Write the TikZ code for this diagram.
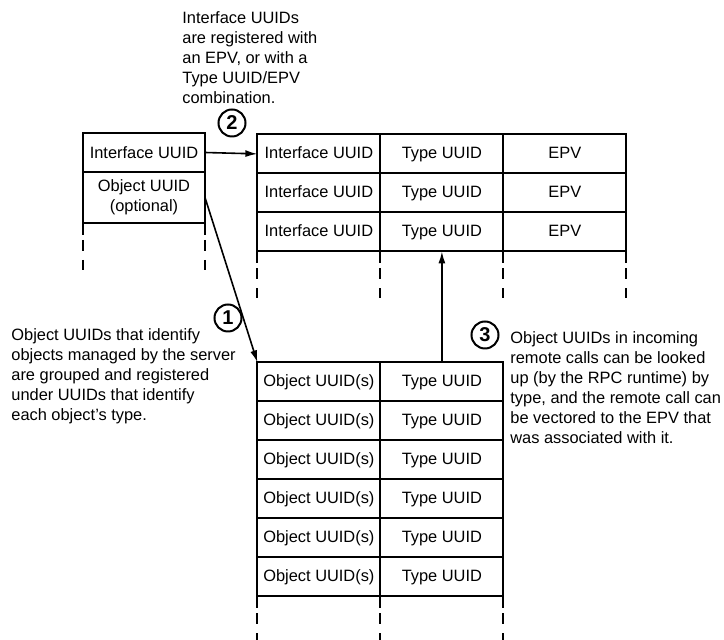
\documentclass[tikz,border=0pt]{standalone}
\usepackage{fontspec}
\setmainfont{Liberation Sans}
\usetikzlibrary{matrix,arrows.meta,positioning}

\begin{document}
\begin{tikzpicture}[x=0.5pt,y=-0.5pt,
  font=\fontsize{8.2}{10}\selectfont,
  cell/.style={draw,line width=1pt,minimum width=61.5pt,minimum height=19.5pt,text height=6pt,text depth=1.8pt,inner sep=0pt,outer sep=0pt,anchor=center},
  tail/.style={line width=1pt,dash pattern=on 6pt off 2.5pt on 5.5pt off 4.5pt on 5pt off 20pt},
  link/.style={line width=0.8pt,-{Latex[length=6pt,width=3.5pt]}},
  badge/.style={draw,circle,line width=1pt,minimum size=13.5pt,inner sep=0pt,font=\bfseries\fontsize{10}{10}\selectfont},
  note/.style={align=left,inner sep=0pt,anchor=north west}]
\useasboundingbox (0,0) rectangle (724,640);
% server entry
\node[draw,line width=1pt,minimum width=61pt,minimum height=19.5pt,inner sep=0pt,outer sep=0pt,anchor=north west] (ifc) at (83,133) {Interface UUID};
\node[draw,line width=1pt,minimum width=61pt,minimum height=25.5pt,inner sep=0pt,outer sep=0pt,align=center,below=0pt of ifc] (objopt) {Object UUID\\(optional)};
% interface registry
\matrix (reg) [matrix of nodes, nodes={cell}, column sep=-1pt, row sep=-1pt, inner sep=0pt, anchor=north west] at (256,133)
{
Interface UUID & Type UUID & EPV \\
Interface UUID & Type UUID & EPV \\
Interface UUID & Type UUID & EPV \\
};
% object registry
\matrix (obj) [matrix of nodes, nodes={cell}, column sep=-1pt, row sep=-1pt, inner sep=0pt, anchor=north west] at (256,361)
{
Object UUID(s) & Type UUID \\
Object UUID(s) & Type UUID \\
Object UUID(s) & Type UUID \\
Object UUID(s) & Type UUID \\
Object UUID(s) & Type UUID \\
Object UUID(s) & Type UUID \\
};
% open ends
\draw[tail] (objopt.south west) -- ++(0,49);
\draw[tail] (objopt.south east) -- ++(0,49);
\foreach \c in {1,2,3}
  \draw[tail] (reg-3-\c.south west) -- ++(0,47);
\draw[tail] (reg-3-3.south east) -- ++(0,47);
\foreach \c in {1,2}
  \draw[tail] (obj-6-\c.south west) -- ++(0,47);
\draw[tail] (obj-6-2.south east) -- ++(0,47);
% arrows
\path[link]
(objopt.east) edge (obj-1-1.north west)
(ifc.east) edge (reg-1-1.west)
(obj-1-2.north) edge (reg-3-2.south)
;
\node[badge] (one) at (228,318) {1};
\node[badge] (two) at (232,123) {2};
\node[badge] (three) at (485,335) {3};
% notes
\node[note] (regnote) at (182,11) {Interface UUIDs\\are registered with\\an EPV, or with a\\Type UUID/EPV\\combination.};
\node[note] (objnote) at (11,328) {Object UUIDs that identify\\objects managed by the server\\are grouped and registered\\under UUIDs that identify\\each object's type.};
\node[note] (callnote) at (510,331) {Object UUIDs in incoming\\remote calls can be looked\\up (by the RPC runtime) by\\type, and the remote call can\\be vectored to the EPV that\\was associated with it.};
\end{tikzpicture}
\end{document}
